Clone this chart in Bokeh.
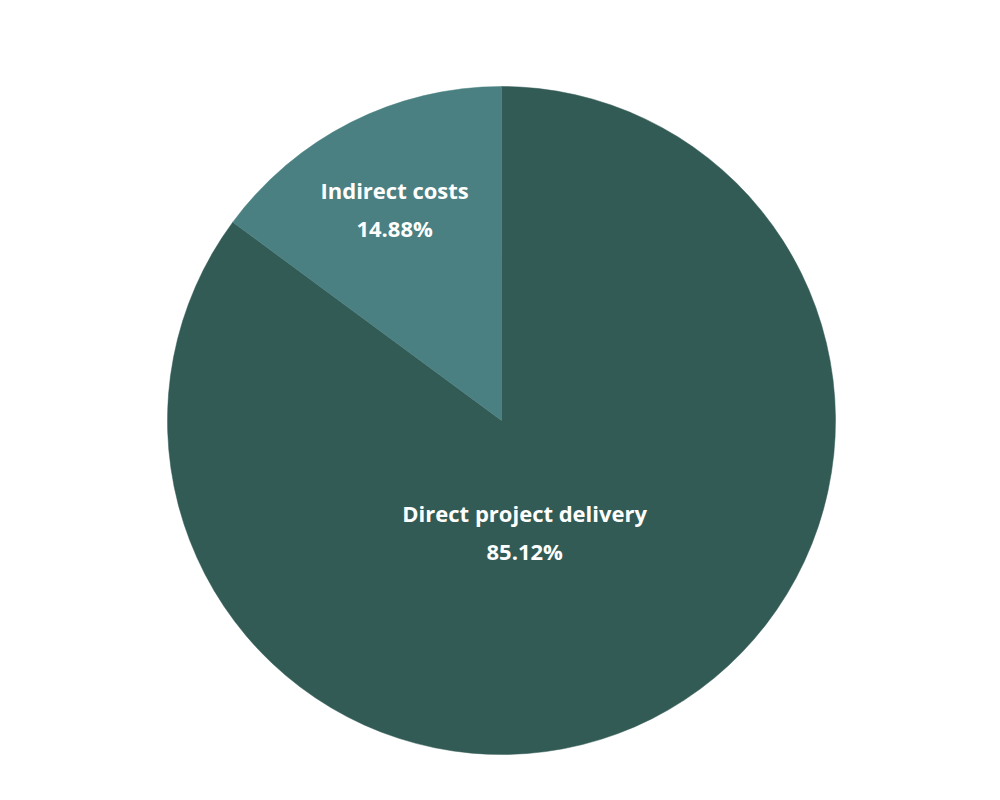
import math
from bokeh.plotting import figure
from bokeh.models import ColumnDataSource, Range1d
from bokeh.embed import file_html
from bokeh.resources import INLINE
from bokeh.core.properties import value

# data
categories = ["Direct project delivery", "Indirect costs"]
shares = [85.12, 14.88]
colors = ["#325b55", "#4a8081"]

# layout (figure pixels)
W, H = 984, 784
cx, cy, R = 501, 420, 334
label_r = [0.34, 0.71]
label_shift_deg = [-15, 0]
line_gap = 19

total = sum(shares)
starts, ends, lx, ly_name, ly_pct, pct_txt = [], [], [], [], [], []
a = math.pi / 2
for i, s in enumerate(shares):
    span = 2 * math.pi * s / total
    starts.append(a)
    ends.append(a - span)
    mid = a - span / 2 + math.radians(label_shift_deg[i])
    x = cx + label_r[i] * R * math.cos(mid)
    y = (H - cy) + label_r[i] * R * math.sin(mid)
    lx.append(x)
    ly_name.append(y + line_gap)
    ly_pct.append(y - line_gap)
    pct_txt.append(f"{s:.2f}%")
    a -= span

src = ColumnDataSource(dict(cat=categories, start=starts, end=ends, color=colors,
                            lx=lx, lyn=ly_name, lyp=ly_pct, pct=pct_txt))

p = figure(width=W, height=H, output_backend="svg", toolbar_location=None,
           x_range=Range1d(0, W), y_range=Range1d(0, H), min_border=0)
p.axis.visible = False
p.grid.visible = False
p.outline_line_color = None
p.background_fill_color = "white"
p.border_fill_color = "white"

p.wedge(x=cx, y=H - cy, radius=R, start_angle="start", end_angle="end",
        direction="clock", fill_color="color", line_color="color", line_width=0.5, source=src)

p.text(x="lx", y="lyn", text="cat", source=src, text_align="center", text_baseline="middle",
       text_font=value("Open Sans"), text_font_style="bold", text_font_size="22px", text_color="white")
p.text(x="lx", y="lyp", text="pct", source=src, text_align="center", text_baseline="middle",
       text_font=value("Open Sans"), text_font_style="bold", text_font_size="22px", text_color="white")

open("out.html", "w").write(file_html(p, INLINE))
